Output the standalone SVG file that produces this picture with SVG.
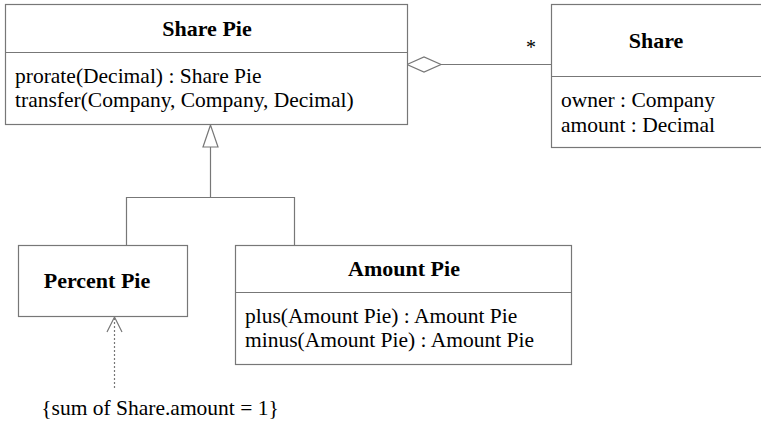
<svg xmlns="http://www.w3.org/2000/svg" width="761" height="426" viewBox="0 0 761 426" font-family="Liberation Serif, Times New Roman, serif">
<style>
.box{fill:#fff;stroke:#777;stroke-width:1.2}
.ln{fill:none;stroke:#777;stroke-width:1.2}
text{font-family:"Liberation Serif","Times New Roman",Times,serif;font-size:21.5px;fill:#000}
.b{font-weight:bold;text-anchor:middle;font-size:22px}
</style>
<rect width="761" height="426" fill="#fff"/>
<g id="connectors">
<line class="ln" x1="441" y1="64.5" x2="552" y2="64.5"/>
<polygon class="ln" points="407,64.5 424,57 441,64.5 424,72" fill="#fff"/>
<text x="526" y="54" style="font-size:20px">*</text>
<polyline class="ln" points="210.5,147 210.5,197.5 126.5,197.5 126.5,245.5"/>
<polyline class="ln" points="210.5,197.5 294.5,197.5 294.5,245.5"/>
<polygon class="ln" points="210.5,125 203,147 218,147" fill="#fff"/>
<line class="ln" x1="114.5" y1="318" x2="114.5" y2="390" stroke-dasharray="2,2"/>
<polyline class="ln" points="107,332 114.5,317 122,332"/>
</g>
<g id="share-pie">
<rect class="box" x="5.5" y="4.5" width="402" height="120"/>
<line class="ln" x1="5.5" y1="52.5" x2="407.5" y2="52.5"/>
<text class="b" x="207" y="36">Share Pie</text>
<text x="15" y="83">prorate(Decimal) : Share Pie</text>
<text x="15" y="107">transfer(Company, Company, Decimal)</text>
</g>
<g id="share">
<rect class="box" x="551.5" y="4.5" width="215" height="143"/>
<line class="ln" x1="551.5" y1="76.5" x2="766" y2="76.5"/>
<text class="b" x="656" y="48">Share</text>
<text x="561" y="107">owner : Company</text>
<text x="561" y="132">amount : Decimal</text>
</g>
<g id="percent-pie">
<rect class="box" x="18.5" y="245.5" width="169" height="71"/>
<text class="b" x="97" y="288">Percent Pie</text>
</g>
<g id="amount-pie">
<rect class="box" x="235.5" y="245.5" width="336" height="119"/>
<line class="ln" x1="235.5" y1="292.5" x2="571.5" y2="292.5"/>
<text class="b" x="404" y="276">Amount Pie</text>
<text x="245" y="323">plus(Amount Pie) : Amount Pie</text>
<text x="245" y="347">minus(Amount Pie) : Amount Pie</text>
</g>
<g id="constraint">
<text x="160" y="415" text-anchor="middle">{sum of Share.amount = 1}</text>
</g>
</svg>
